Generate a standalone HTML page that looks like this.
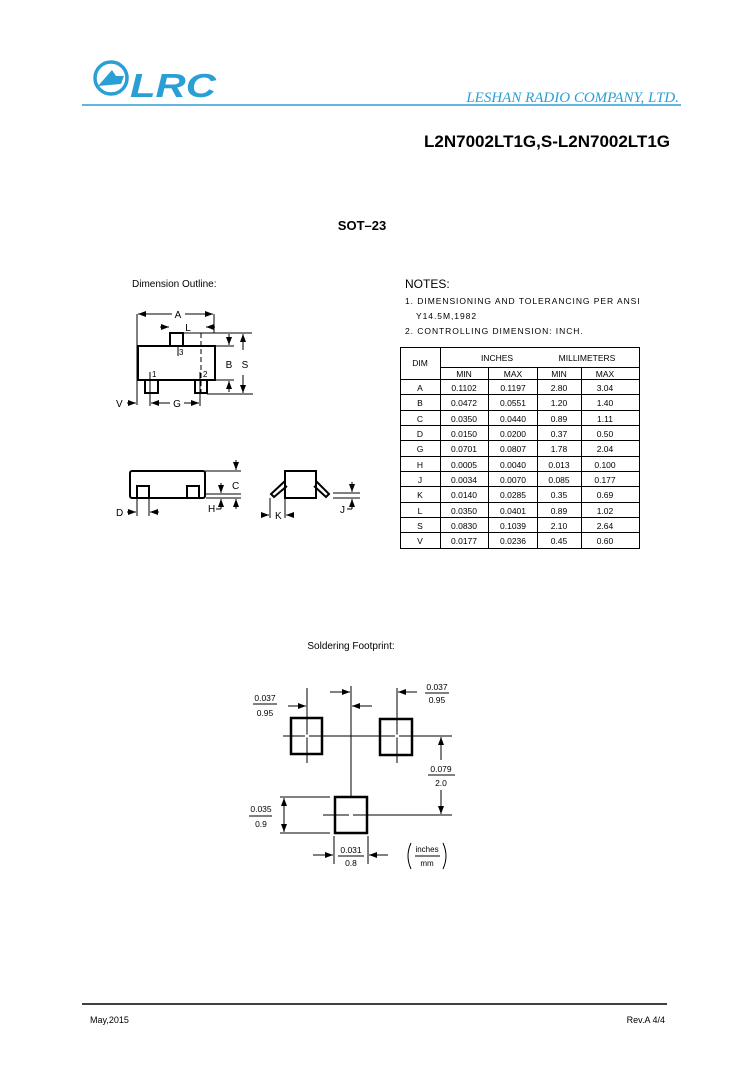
<!DOCTYPE html>
<html><head><meta charset="utf-8"><style>
html,body{margin:0;padding:0;background:#fff;}
svg{display:block;}
text{font-family:"Liberation Sans",sans-serif;fill:#000;}
</style></head><body>
<svg width="736" height="1065" viewBox="0 0 736 1065" xmlns="http://www.w3.org/2000/svg">
<defs>
<marker id="ar" markerWidth="8" markerHeight="6" refX="8" refY="3" orient="auto" markerUnits="userSpaceOnUse"><path d="M0,0 L8,3 L0,6 z" fill="#000"/></marker>
</defs>
<!-- Header -->
<circle cx="111" cy="78" r="16" fill="none" stroke="#2a9fd6" stroke-width="3.5"/>
<path d="M98,86 L112,70 L116,76 L124,76 L121,84 Z" fill="#2a9fd6"/>
<text x="130" y="97" font-size="33" font-weight="bold" font-style="italic" style="fill:#2a9fd6" textLength="86" lengthAdjust="spacingAndGlyphs">LRC</text>
<line x1="82" y1="105" x2="681" y2="105" stroke="#2a9fd6" stroke-width="1.5"/>
<text x="679" y="102" font-size="15" font-style="italic" text-anchor="end" style="fill:#2a9fd6;font-family:'Liberation Serif',serif">LESHAN RADIO COMPANY, LTD.</text>
<text x="670" y="147" font-size="17" font-weight="bold" text-anchor="end">L2N7002LT1G,S-L2N7002LT1G</text>
<text x="362" y="230" font-size="13" font-weight="bold" text-anchor="middle">SOT–23</text>

<!-- Dimension outline -->
<text x="132" y="287" font-size="10">Dimension Outline:</text>
<g stroke="#000" stroke-width="1" fill="none">
<rect x="138" y="346" width="77" height="34" stroke-width="2"/>
<rect x="170" y="333" width="13" height="13" stroke-width="2"/>
<rect x="145" y="380" width="13" height="13" stroke-width="2"/>
<rect x="195" y="380" width="12" height="13" stroke-width="2"/>
<line x1="137" y1="314" x2="137" y2="405"/>
<line x1="214" y1="314" x2="214" y2="333"/>
<line x1="172" y1="314" x2="138" y2="314" marker-end="url(#ar)"/>
<line x1="185" y1="314" x2="213" y2="314" marker-end="url(#ar)"/>
<line x1="160" y1="327" x2="169" y2="327" marker-end="url(#ar)"/>
<line x1="215" y1="327" x2="206" y2="327" marker-end="url(#ar)"/>
<line x1="183" y1="333" x2="252" y2="333"/>
<line x1="215" y1="346" x2="234" y2="346"/>
<line x1="215" y1="380" x2="234" y2="380"/>
<line x1="207" y1="394" x2="253" y2="394"/>
<line x1="229" y1="334" x2="229" y2="345" marker-end="url(#ar)"/>
<line x1="229" y1="392" x2="229" y2="381" marker-end="url(#ar)"/>
<line x1="243" y1="350" x2="243" y2="334" marker-end="url(#ar)"/>
<line x1="243" y1="375" x2="243" y2="393" marker-end="url(#ar)"/>
<line x1="201" y1="333" x2="201" y2="392" stroke-dasharray="5,3"/>
<line x1="178" y1="346" x2="178" y2="356"/>
<line x1="150" y1="372" x2="150" y2="406"/>
<line x1="200" y1="372" x2="200" y2="406"/>
<line x1="127" y1="403" x2="136" y2="403" marker-end="url(#ar)"/>
<line x1="170" y1="403" x2="151" y2="403" marker-end="url(#ar)"/>
<line x1="184" y1="403" x2="199" y2="403" marker-end="url(#ar)"/>
</g>
<g font-size="10">
<text x="178" y="318" text-anchor="middle">A</text>
<text x="188" y="331" text-anchor="middle">L</text>
<text x="229" y="368" text-anchor="middle">B</text>
<text x="245" y="368" text-anchor="middle">S</text>
<text x="177" y="407" text-anchor="middle">G</text>
<text x="116" y="407">V</text>
</g>
<g font-size="8">
<text x="179" y="355">3</text><text x="152" y="377">1</text><text x="203" y="377">2</text>
</g>

<!-- side views -->
<g stroke="#000" stroke-width="1" fill="none">
<rect x="130" y="471" width="75" height="27" rx="2" stroke-width="2"/>
<rect x="137" y="486" width="12" height="12" stroke-width="2"/>
<rect x="187" y="486" width="12" height="12" stroke-width="2"/>
<line x1="205" y1="471" x2="241" y2="471"/>
<line x1="206" y1="494" x2="241" y2="494"/>
<line x1="206" y1="498" x2="241" y2="498"/>
<line x1="236" y1="460" x2="236" y2="470" marker-end="url(#ar)"/>
<line x1="221" y1="483" x2="221" y2="493" marker-end="url(#ar)"/>
<line x1="221" y1="509" x2="221" y2="499" marker-end="url(#ar)"/>
<line x1="236" y1="509" x2="236" y2="499" marker-end="url(#ar)"/>
<line x1="216" y1="509" x2="221" y2="509"/>
<line x1="137" y1="498" x2="137" y2="516"/>
<line x1="149" y1="498" x2="149" y2="516"/>
<line x1="127" y1="512" x2="136" y2="512" marker-end="url(#ar)"/>
<line x1="159" y1="512" x2="150" y2="512" marker-end="url(#ar)"/>
<rect x="285" y="471" width="31" height="27" stroke-width="2"/>
<path d="M285,481 L271,494 L274,497 L287,486" stroke-width="2"/>
<path d="M316,481 L329,494 L326,497 L314,486" stroke-width="2"/>
<line x1="270" y1="498" x2="270" y2="518"/>
<line x1="285" y1="498" x2="285" y2="518"/>
<line x1="261" y1="515" x2="269" y2="515" marker-end="url(#ar)"/>
<line x1="294" y1="515" x2="286" y2="515" marker-end="url(#ar)"/>
<line x1="333" y1="493" x2="360" y2="493"/>
<line x1="333" y1="498" x2="360" y2="498"/>
<line x1="352" y1="482" x2="352" y2="492" marker-end="url(#ar)"/>
<line x1="352" y1="509" x2="352" y2="499" marker-end="url(#ar)"/>
<line x1="347" y1="509" x2="352" y2="509"/>
</g>
<g font-size="10">
<text x="232" y="489">C</text><text x="208" y="512">H</text><text x="116" y="516">D</text>
<text x="275" y="519">K</text><text x="340" y="513">J</text>
</g>

<!-- Notes -->
<text x="405" y="288" font-size="12">NOTES:</text>
<g font-size="8.5" letter-spacing="0.95">
<text x="405" y="304">1. DIMENSIONING AND TOLERANCING PER ANSI</text>
<text x="416" y="319">Y14.5M,1982</text>
<text x="405" y="334">2. CONTROLLING DIMENSION: INCH.</text>
</g>

<!-- Table -->
<g stroke="#000" stroke-width="1" fill="none">
<rect x="400.5" y="347.5" width="239" height="201"/>
<line x1="440.5" y1="347" x2="440.5" y2="548"/>
<line x1="440" y1="367.5" x2="639" y2="367.5"/>
<line x1="488.5" y1="367" x2="488.5" y2="548"/>
<line x1="537.5" y1="367" x2="537.5" y2="548"/>
<line x1="581.5" y1="367" x2="581.5" y2="548"/>
<line x1="400" y1="379.5" x2="639" y2="379.5"/>
</g>
<g stroke="#000" stroke-width="1">
<line x1="400" y1="394.5" x2="639" y2="394.5"/><line x1="400" y1="410.5" x2="639" y2="410.5"/>
<line x1="400" y1="425.5" x2="639" y2="425.5"/><line x1="400" y1="440.5" x2="639" y2="440.5"/>
<line x1="400" y1="456.5" x2="639" y2="456.5"/><line x1="400" y1="471.5" x2="639" y2="471.5"/>
<line x1="400" y1="486.5" x2="639" y2="486.5"/><line x1="400" y1="502.5" x2="639" y2="502.5"/>
<line x1="400" y1="517.5" x2="639" y2="517.5"/><line x1="400" y1="532.5" x2="639" y2="532.5"/>
</g>
<g font-size="8.5" text-anchor="middle">
<text x="420" y="366">DIM</text>
<text x="497" y="361">INCHES</text><text x="587" y="361">MILLIMETERS</text>
<text x="464" y="377">MIN</text><text x="513" y="377">MAX</text><text x="559" y="377">MIN</text><text x="605" y="377">MAX</text>
<text x="420" y="391">A</text><text x="464" y="391">0.1102</text><text x="513" y="391">0.1197</text><text x="559" y="391">2.80</text><text x="605" y="391">3.04</text>
<text x="420" y="406">B</text><text x="464" y="406">0.0472</text><text x="513" y="406">0.0551</text><text x="559" y="406">1.20</text><text x="605" y="406">1.40</text>
<text x="420" y="422">C</text><text x="464" y="422">0.0350</text><text x="513" y="422">0.0440</text><text x="559" y="422">0.89</text><text x="605" y="422">1.11</text>
<text x="420" y="437">D</text><text x="464" y="437">0.0150</text><text x="513" y="437">0.0200</text><text x="559" y="437">0.37</text><text x="605" y="437">0.50</text>
<text x="420" y="452">G</text><text x="464" y="452">0.0701</text><text x="513" y="452">0.0807</text><text x="559" y="452">1.78</text><text x="605" y="452">2.04</text>
<text x="420" y="468">H</text><text x="464" y="468">0.0005</text><text x="513" y="468">0.0040</text><text x="559" y="468">0.013</text><text x="605" y="468">0.100</text>
<text x="420" y="483">J</text><text x="464" y="483">0.0034</text><text x="513" y="483">0.0070</text><text x="559" y="483">0.085</text><text x="605" y="483">0.177</text>
<text x="420" y="498">K</text><text x="464" y="498">0.0140</text><text x="513" y="498">0.0285</text><text x="559" y="498">0.35</text><text x="605" y="498">0.69</text>
<text x="420" y="514">L</text><text x="464" y="514">0.0350</text><text x="513" y="514">0.0401</text><text x="559" y="514">0.89</text><text x="605" y="514">1.02</text>
<text x="420" y="529">S</text><text x="464" y="529">0.0830</text><text x="513" y="529">0.1039</text><text x="559" y="529">2.10</text><text x="605" y="529">2.64</text>
<text x="420" y="544">V</text><text x="464" y="544">0.0177</text><text x="513" y="544">0.0236</text><text x="559" y="544">0.45</text><text x="605" y="544">0.60</text>
</g>

<!-- Soldering footprint -->
<text x="351" y="649" font-size="10" text-anchor="middle">Soldering Footprint:</text>
<g stroke="#000" stroke-width="1" fill="none">
<rect x="291" y="718" width="31" height="36" stroke-width="2.5"/>
<rect x="380" y="719" width="32" height="36" stroke-width="2.5"/>
<rect x="335" y="797" width="32" height="36" stroke-width="2.5"/>
<line x1="283" y1="736" x2="452" y2="736"/>
<line x1="323" y1="815" x2="452" y2="815"/>
<line x1="351" y1="686" x2="351" y2="796"/>
<line x1="307" y1="688" x2="307" y2="763"/>
<line x1="397" y1="688" x2="397" y2="763"/>
<line x1="330" y1="692" x2="350" y2="692" marker-end="url(#ar)"/>
<line x1="372" y1="706" x2="352" y2="706" marker-end="url(#ar)"/>
<line x1="288" y1="706" x2="306" y2="706" marker-end="url(#ar)"/>
<line x1="417" y1="692" x2="398" y2="692" marker-end="url(#ar)"/>
<line x1="441" y1="760" x2="441" y2="737" marker-end="url(#ar)"/>
<line x1="441" y1="790" x2="441" y2="814" marker-end="url(#ar)"/>
<line x1="280" y1="797" x2="330" y2="797"/>
<line x1="280" y1="833" x2="330" y2="833"/>
<line x1="284" y1="815" x2="284" y2="798" marker-end="url(#ar)"/>
<line x1="284" y1="815" x2="284" y2="832" marker-end="url(#ar)"/>
<line x1="334" y1="836" x2="334" y2="864"/>
<line x1="368" y1="836" x2="368" y2="864"/>
<line x1="313" y1="855" x2="333" y2="855" marker-end="url(#ar)"/>
<line x1="388" y1="855" x2="369" y2="855" marker-end="url(#ar)"/>
<line x1="253" y1="704" x2="277" y2="704"/>
<line x1="425" y1="693" x2="449" y2="693"/>
<line x1="428" y1="775" x2="455" y2="775"/>
<line x1="249" y1="816" x2="272" y2="816"/>
<line x1="338" y1="856" x2="364" y2="856"/>
<line x1="415" y1="856" x2="440" y2="856"/>
</g>
<g stroke="#fff" stroke-width="3">
<line x1="305" y1="736" x2="309" y2="736"/><line x1="395" y1="736" x2="399" y2="736"/><line x1="349" y1="815" x2="353" y2="815"/>
</g>
<g font-size="8.5" text-anchor="middle">
<text x="265" y="701">0.037</text><text x="265" y="716">0.95</text>
<text x="437" y="690">0.037</text><text x="437" y="703">0.95</text>
<text x="441" y="772">0.079</text><text x="441" y="786">2.0</text>
<text x="261" y="812">0.035</text><text x="261" y="827">0.9</text>
<text x="351" y="853">0.031</text><text x="351" y="866">0.8</text>
<text x="427" y="852" font-size="8">inches</text><text x="427" y="866" font-size="8">mm</text>
</g>
<path d="M411,843 Q405,856 411,869" stroke="#000" fill="none"/>
<path d="M443,843 Q449,856 443,869" stroke="#000" fill="none"/>

<!-- Footer -->
<line x1="82" y1="1004" x2="667" y2="1004" stroke="#000" stroke-width="1.5"/>
<text x="90" y="1023" font-size="9">May,2015</text>
<text x="665" y="1023" font-size="9" text-anchor="end">Rev.A 4/4</text>
</svg>
</body></html>
